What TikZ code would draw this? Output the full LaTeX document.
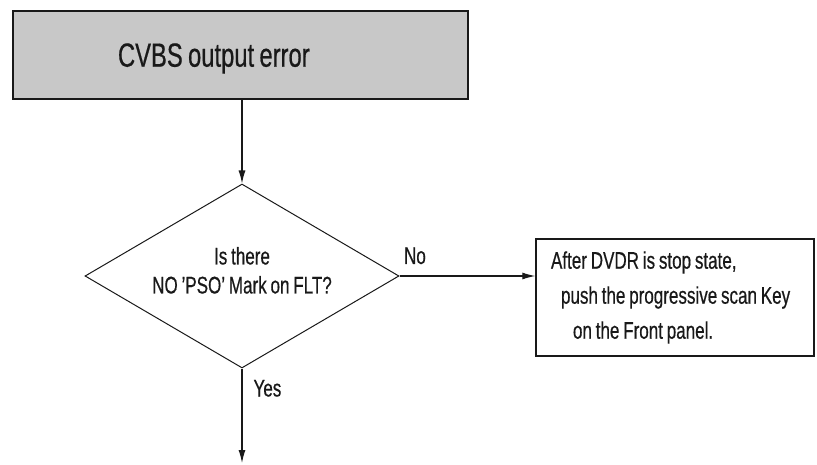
\documentclass[tikz,border=0pt]{standalone}
\usepackage{fontspec}
\setmainfont{Liberation Sans}[FakeStretch=0.71,WordSpace=0.8,FakeBold=0.5]
\usetikzlibrary{shapes.geometric,arrows.meta}
\definecolor{boxgray}{RGB}{200,200,200}
\definecolor{ink}{RGB}{25,25,25}
\tikzset{
  titlebox/.style={draw=ink, line width=1.8pt, fill=boxgray, minimum width=455pt, minimum height=88pt,
    text width=245pt, align=flush left, inner xsep=105pt, inner ysep=0pt, text depth=0pt,
    font=\fontsize{33.5}{40}\selectfont, text=ink},
  decision/.style={draw=ink, line width=1pt, shape=diamond, aspect=1.7, minimum width=314pt, minimum height=184pt,
    inner sep=0pt, align=center, text depth=11.5pt, font=\fontsize{24}{29}\selectfont, text=ink},
  actionbox/.style={draw=ink, line width=1.4pt, minimum width=278pt, minimum height=117pt,
    text width=248pt, align=flush left, inner xsep=15pt, inner ysep=0pt,
    font=\fontsize{24}{35}\selectfont, text=ink},
  flow/.style={draw=ink, line width=1.1pt, -{Latex[length=13pt,width=7pt]}},
  lbl/.style={inner sep=0pt, font=\fontsize{24}{29}\selectfont, text=ink}
}
\begin{document}
\begin{tikzpicture}[x=1pt,y=-1pt]
\useasboundingbox (0,0) rectangle (817,465);
\node[titlebox] (top) at (240.5,55) {CVBS output error};
\node[decision] (dia) at (242,276) {Is there\\NO 'PSO' Mark on FLT?};
\node[actionbox] (act) at (675,297.5) {After DVDR is stop state,\\\hspace*{10pt}push the progressive scan Key\\\hspace*{22pt}on the Front panel.};
\coordinate (out) at (242,463);
\draw[flow] (top.south -| dia.north) -- (dia.north);
\draw[flow] (dia.east) -- node[lbl, pos=0, anchor=base west, xshift=4pt, yshift=12pt] (no) {No} (dia.east -| act.west);
\draw[flow] (dia.south) -- node[lbl, pos=0, anchor=base west, xshift=11pt, yshift=-28pt] (yes) {Yes} (out);
\end{tikzpicture}
\end{document}
